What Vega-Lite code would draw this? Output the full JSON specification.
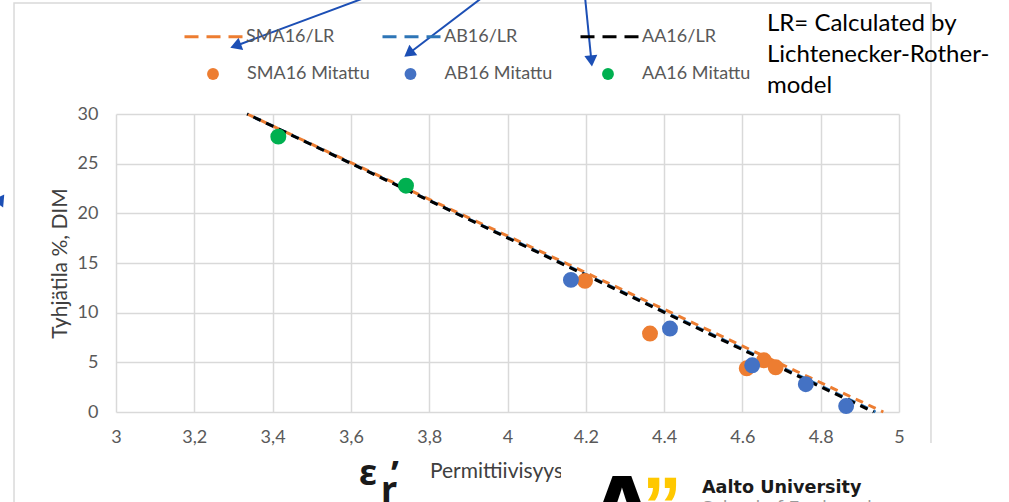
{
  "$schema": "https://vega.github.io/schema/vega-lite/v6.json",
  "width": 783,
  "height": 298,
  "autosize": {"type": "none"},
  "padding": {"left": 116, "top": 114, "right": 110, "bottom": 90},
  "background": "#ffffff",
  "config": {"view": {"stroke": null}, "font": "Lato"},
  "resolve": {"scale": {"color": "independent"}},
  "encoding": {
    "x": {"field": "x", "type": "quantitative", "scale": {"domain": [3, 5], "nice": false, "zero": false},
      "axis": {"title": null, "values": [3, 3.2, 3.4, 3.6, 3.8, 4, 4.2, 4.4, 4.6, 4.8, 5],
        "labelExpr": "datum.value == 3 || datum.value == 4 || datum.value == 5 ? format(datum.value, 'd') : (datum.value < 4 ? replace(format(datum.value, '.1f'), '.', ',') : format(datum.value, '.1f'))",
        "grid": true, "gridColor": "#d9d9d9", "gridWidth": 1.5, "domain": false, "ticks": false, "tickSize": 0,
        "labelPadding": 16, "labelFont": "Lato", "labelFontSize": 18, "labelColor": "#595959", "labelFlush": false, "labelOverlap": false}},
    "y": {"field": "y", "type": "quantitative", "scale": {"domain": [0, 30], "nice": false, "zero": false},
      "axis": {"title": "Tyhjätila %, DIM", "values": [0, 5, 10, 15, 20, 25, 30],
        "grid": true, "gridColor": "#d9d9d9", "gridWidth": 1.5, "domain": false, "ticks": false, "tickSize": 0,
        "labelPadding": 18, "labelFont": "Lato", "labelFontSize": 18, "labelColor": "#595959", "labelFlush": false, "labelOverlap": false,
        "titleFont": "Lato", "titleFontSize": 21, "titleFontWeight": "normal", "titleColor": "#404040", "titlePadding": 7}}
  },
  "layer": [
    {
      "data": {"values": [{"x": 2.7395, "x2": 5.0817, "y": 41.17, "y2": -10}]},
      "mark": {"type": "rect", "fill": "#ffffff", "fillOpacity": 0, "stroke": "#d9d9d9", "strokeWidth": 1.5},
      "encoding": {"x2": {"field": "x2"}, "y2": {"field": "y2"}}
    },
    {
      "data": {"values": [
        {"series": "SMA16/LR", "x": 3.335, "y": 30},
        {"series": "SMA16/LR", "x": 4.96, "y": 0},
        {"series": "AB16/LR", "x": 3.335, "y": 30},
        {"series": "AB16/LR", "x": 4.94, "y": 0},
        {"series": "AA16/LR", "x": 3.335, "y": 30},
        {"series": "AA16/LR", "x": 4.935, "y": 0}
      ]},
      "layer": [
        {
          "transform": [{"filter": "datum.series == 'SMA16/LR'"}],
          "mark": {"type": "line", "strokeWidth": 3, "strokeDash": [8, 6], "strokeDashOffset": 0},
          "encoding": {
            "color": {"field": "series", "type": "nominal",
              "scale": {"domain": ["SMA16/LR", "AB16/LR", "AA16/LR"], "range": ["#ED7D31", "#2E75B6", "#000000"]},
              "legend": {"title": null, "orient": "none", "legendX": 67, "legendY": -108, "direction": "horizontal",
                "symbolType": "stroke", "symbolSize": 3364, "symbolStrokeWidth": 3, "symbolDash": [14, 8],
                "labelFont": "Lato", "labelFontSize": 18, "labelColor": "#595959", "labelOffset": 2,
                "columnPadding": 41, "gridAlign": "all", "padding": 0, "labelLimit": 300}}
          }
        },
        {
          "transform": [{"filter": "datum.series == 'AB16/LR'"}],
          "mark": {"type": "line", "strokeWidth": 3, "strokeDash": [8, 6], "strokeDashOffset": 7},
          "encoding": {
            "color": {"field": "series", "type": "nominal",
              "scale": {"domain": ["SMA16/LR", "AB16/LR", "AA16/LR"], "range": ["#ED7D31", "#2E75B6", "#000000"]}}
          }
        },
        {
          "transform": [{"filter": "datum.series == 'AA16/LR'"}],
          "mark": {"type": "line", "strokeWidth": 3, "strokeDash": [8, 6], "strokeDashOffset": 7},
          "encoding": {
            "color": {"field": "series", "type": "nominal",
              "scale": {"domain": ["SMA16/LR", "AB16/LR", "AA16/LR"], "range": ["#ED7D31", "#2E75B6", "#000000"]}}
          }
        }
      ]
    },
    {
      "data": {"values": [
        {"series": "SMA16 Mitattu", "x": 4.198, "y": 13.2},
        {"series": "SMA16 Mitattu", "x": 4.364, "y": 7.9},
        {"series": "SMA16 Mitattu", "x": 4.611, "y": 4.4},
        {"series": "SMA16 Mitattu", "x": 4.655, "y": 5.2},
        {"series": "SMA16 Mitattu", "x": 4.685, "y": 4.5},
        {"series": "AB16 Mitattu", "x": 4.162, "y": 13.3},
        {"series": "AB16 Mitattu", "x": 4.415, "y": 8.4},
        {"series": "AB16 Mitattu", "x": 4.625, "y": 4.7},
        {"series": "AB16 Mitattu", "x": 4.762, "y": 2.8},
        {"series": "AB16 Mitattu", "x": 4.865, "y": 0.6},
        {"series": "AA16 Mitattu", "x": 3.4146, "y": 27.72},
        {"series": "AA16 Mitattu", "x": 3.7407, "y": 22.78}
      ]},
      "mark": {"type": "point", "shape": "circle", "filled": true, "opacity": 1, "size": 254},
      "encoding": {
        "color": {"field": "series", "type": "nominal",
          "scale": {"domain": ["SMA16 Mitattu", "AB16 Mitattu", "AA16 Mitattu"], "range": ["#ED7D31", "#4472C4", "#00B050"]},
          "legend": {"title": null, "orient": "none", "legendX": 88, "legendY": -49, "direction": "horizontal",
            "symbolType": "circle", "symbolSize": 140, "symbolOpacity": 1,
            "labelFont": "Lato", "labelFontSize": 18, "labelColor": "#595959", "labelOffset": 25,
            "columnPadding": 31.5, "gridAlign": "all", "padding": 0, "labelLimit": 300}},
        "order": {"field": "series", "type": "nominal", "sort": "descending"}
      }
    },
    {
      "data": {"values": [
        {"x": 3.6411, "y": 41.78, "x2": 3.3152, "y2": 37.0},
        {"x": 3.9374, "y": 41.78, "x2": 3.7561, "y2": 36.34},
        {"x": 4.198, "y": 41.78, "x2": 4.2133, "y2": 35.74}
      ]},
      "mark": {"type": "rule", "color": "#1C4FB5", "strokeWidth": 2},
      "encoding": {"x2": {"field": "x2"}, "y2": {"field": "y2"}}
    },
    {
      "data": {"values": [{"x": 3.3055, "y": 36.86}]},
      "mark": {"type": "point", "shape": "triangle-up", "filled": true, "opacity": 1, "size": 170, "color": "#1C4FB5", "angle": 249.6},
      "encoding": {}
    },
    {
      "data": {"values": [{"x": 3.7479, "y": 36.1}]},
      "mark": {"type": "point", "shape": "triangle-up", "filled": true, "opacity": 1, "size": 170, "color": "#1C4FB5", "angle": 232.8},
      "encoding": {}
    },
    {
      "data": {"values": [{"x": 4.2143, "y": 35.34}]},
      "mark": {"type": "point", "shape": "triangle-up", "filled": true, "opacity": 1, "size": 170, "color": "#1C4FB5", "angle": 174.3},
      "encoding": {}
    },
    {
      "data": {"values": [{"x": 2.7063, "y": 21.44}]},
      "mark": {"type": "point", "shape": "triangle-up", "filled": true, "opacity": 1, "size": 170, "color": "#1C4FB5", "angle": 35},
      "encoding": {}
    },
    {
      "data": {"values": [{"x": 4.6628, "y": 40.31, "text": "LR= Calculated by\nLichtenecker-Rother-\nmodel"}]},
      "mark": {"type": "text", "align": "left", "baseline": "top", "lineBreak": "\n", "lineHeight": 31, "font": "Lato", "fontSize": 24, "color": "#000000"},
      "encoding": {"text": {"field": "text"}}
    },
    {
      "data": {"values": [{"x": 3.802, "y": -6.644, "text": "Permittiivisyys"}]},
      "mark": {"type": "text", "align": "left", "baseline": "alphabetic", "font": "Lato", "fontSize": 21, "color": "#404040"},
      "encoding": {"text": {"field": "text"}}
    },
    {
      "data": {"values": [
        {"x": 3.6207, "y": -7.35, "text": "ε"},
        {"x": 3.6769, "y": -9.1, "text": "r"},
        {"x": 3.7024, "y": -7.55, "text": "’"}
      ]},
      "mark": {"type": "text", "align": "left", "baseline": "alphabetic", "font": "Noto Sans", "fontWeight": "bold", "fontSize": 36, "color": "#1a1a1a"},
      "encoding": {"text": {"field": "text"}}
    },
    {
      "data": {"values": [{"x": 4.1367, "x2": 5.32, "y": -3.12, "y2": -12}]},
      "mark": {"type": "rect", "fill": "#ffffff", "strokeWidth": 0},
      "encoding": {"x2": {"field": "x2"}, "y2": {"field": "y2"}}
    },
    {
      "data": {"values": [{"x": 4.2925, "y": -14.0, "text": "A"}]},
      "mark": {"type": "text", "align": "center", "baseline": "alphabetic", "font": "Liberation Sans", "fontWeight": "bold", "fontSize": 110, "color": "#000000"},
      "encoding": {"text": {"field": "text"}}
    },
    {
      "data": {"values": [{"x": 4.3946, "y": -12.18, "text": "”"}]},
      "mark": {"type": "text", "align": "center", "baseline": "alphabetic", "font": "Liberation Sans", "fontWeight": "bold", "fontSize": 80, "color": "#FFC800"},
      "encoding": {"text": {"field": "text"}}
    },
    {
      "data": {"values": [{"x": 4.4968, "y": -8.155, "text": "Aalto University"}]},
      "mark": {"type": "text", "align": "left", "baseline": "alphabetic", "font": "DejaVu Sans", "fontWeight": "bold", "fontSize": 17.6, "color": "#1a1a1a"},
      "encoding": {"text": {"field": "text"}}
    },
    {
      "data": {"values": [{"x": 4.4968, "y": -10.25, "text": "School of Engineering"}]},
      "mark": {"type": "text", "align": "left", "baseline": "alphabetic", "font": "DejaVu Sans", "fontSize": 17.6, "color": "#9a9a9a"},
      "encoding": {"text": {"field": "text"}}
    }
  ]
}
